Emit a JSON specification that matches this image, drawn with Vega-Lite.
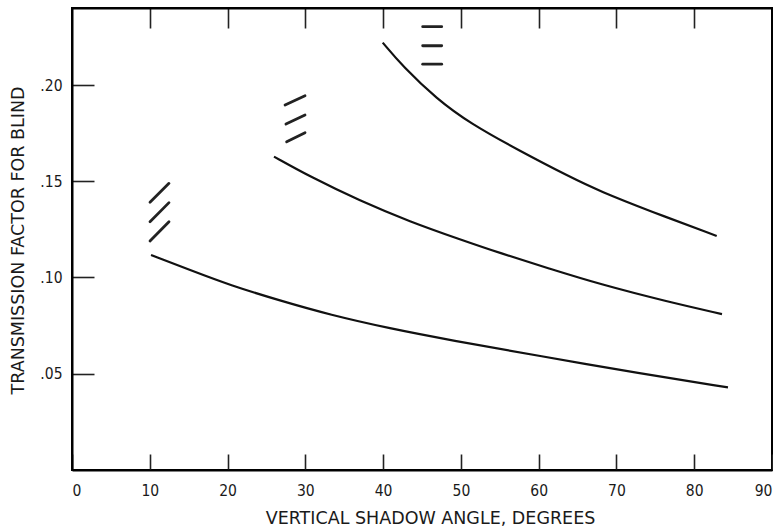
{
  "$schema": "https://vega.github.io/schema/vega-lite/v6.json",
  "width": 700,
  "height": 462,
  "autosize": {"type": "none"},
  "padding": {"left": 72, "top": 8, "right": 1, "bottom": 59},
  "background": "white",
  "config": {
    "view": {"stroke": "black", "strokeWidth": 2},
    "axis": {
      "grid": false,
      "domainColor": "black",
      "domainWidth": 2,
      "tickColor": "#222",
      "tickWidth": 1.6,
      "labelFont": "DejaVu Sans Condensed",
      "labelFontSize": 15.5,
      "labelColor": "#1a1a1a",
      "titleFont": "DejaVu Sans",
      "titleFontSize": 17.5,
      "titleFontWeight": "normal",
      "titleColor": "#1a1a1a"
    }
  },
  "layer": [
    {
      "data": {
        "values": [
          {"curve": "A", "angle": 10.16, "t": 0.1117},
          {"curve": "A", "angle": 15.17, "t": 0.1039},
          {"curve": "A", "angle": 20.31, "t": 0.0960},
          {"curve": "A", "angle": 26.74, "t": 0.0880},
          {"curve": "A", "angle": 33.17, "t": 0.0806},
          {"curve": "A", "angle": 40.88, "t": 0.0735},
          {"curve": "A", "angle": 48.60, "t": 0.0675},
          {"curve": "A", "angle": 60.17, "t": 0.0592},
          {"curve": "A", "angle": 73.03, "t": 0.0502},
          {"curve": "A", "angle": 84.34, "t": 0.0429},
          {"curve": "B", "angle": 25.97, "t": 0.1628},
          {"curve": "B", "angle": 30.60, "t": 0.1524},
          {"curve": "B", "angle": 37.03, "t": 0.1398},
          {"curve": "B", "angle": 43.46, "t": 0.1290},
          {"curve": "B", "angle": 49.88, "t": 0.1198},
          {"curve": "B", "angle": 55.03, "t": 0.1127},
          {"curve": "B", "angle": 61.46, "t": 0.1045},
          {"curve": "B", "angle": 67.88, "t": 0.0965},
          {"curve": "B", "angle": 76.50, "t": 0.0875},
          {"curve": "B", "angle": 83.57, "t": 0.0810},
          {"curve": "C", "angle": 39.95, "t": 0.2220},
          {"curve": "C", "angle": 42.56, "t": 0.2095},
          {"curve": "C", "angle": 46.89, "t": 0.1928},
          {"curve": "C", "angle": 51.17, "t": 0.1801},
          {"curve": "C", "angle": 57.60, "t": 0.1657},
          {"curve": "C", "angle": 64.03, "t": 0.1522},
          {"curve": "C", "angle": 67.88, "t": 0.1448},
          {"curve": "C", "angle": 74.31, "t": 0.1345},
          {"curve": "C", "angle": 82.89, "t": 0.1216}
        ]
      },
      "mark": {"type": "line", "color": "#111", "strokeWidth": 2.2, "interpolate": "basis"},
      "encoding": {
        "x": {
          "field": "angle", "type": "quantitative",
          "scale": {"domain": [0, 90], "nice": false},
          "axis": {
            "orient": "bottom",
            "values": [0, 10, 20, 30, 40, 50, 60, 70, 80, 90],
            "tickSize": -16,
            "labelPadding": 29,
            "title": "VERTICAL SHADOW ANGLE,  DEGREES",
            "titleX": 358,
            "titleY": 48,
            "titleBaseline": "middle"
          }
        },
        "y": {
          "field": "t", "type": "quantitative",
          "scale": {"domain": [0, 0.24], "nice": false, "zero": true},
          "axis": {
            "orient": "left",
            "values": [0.05, 0.10, 0.15, 0.20],
            "labelExpr": "slice(format(datum.value, '.2f'), 1)",
            "tickSize": -22,
            "labelPadding": 32,
            "title": "TRANSMISSION FACTOR FOR BLIND",
            "titleX": -54,
            "titleY": 232,
            "titleBaseline": "middle",
            "titleAngle": -90
          }
        },
        "detail": {"field": "curve"}
      }
    },
    {
      "data": {
        "values": [
          {"x1": 10.03, "y1": 0.1391, "x2": 12.47, "y2": 0.1489},
          {"x1": 10.03, "y1": 0.1290, "x2": 12.47, "y2": 0.1389},
          {"x1": 10.03, "y1": 0.1190, "x2": 12.47, "y2": 0.1290},
          {"x1": 27.39, "y1": 0.1896, "x2": 29.96, "y2": 0.1944},
          {"x1": 27.51, "y1": 0.1797, "x2": 29.96, "y2": 0.1844},
          {"x1": 27.60, "y1": 0.1705, "x2": 29.96, "y2": 0.1752},
          {"x1": 45.09, "y1": 0.2303, "x2": 47.53, "y2": 0.2303},
          {"x1": 45.09, "y1": 0.2204, "x2": 47.53, "y2": 0.2204},
          {"x1": 45.09, "y1": 0.2108, "x2": 47.53, "y2": 0.2108}
        ]
      },
      "mark": {"type": "rule", "color": "#222", "strokeWidth": 2.8, "strokeCap": "round"},
      "encoding": {
        "x": {
          "field": "x1", "type": "quantitative",
          "axis": {
            "orient": "top",
            "values": [10, 20, 30, 40, 50, 60, 70, 80],
            "labels": false,
            "tickSize": -20,
            "title": null
          }
        },
        "y": {"field": "y1", "type": "quantitative"},
        "x2": {"field": "x2"},
        "y2": {"field": "y2"}
      }
    }
  ],
  "resolve": {"axis": {"x": "independent"}}
}
